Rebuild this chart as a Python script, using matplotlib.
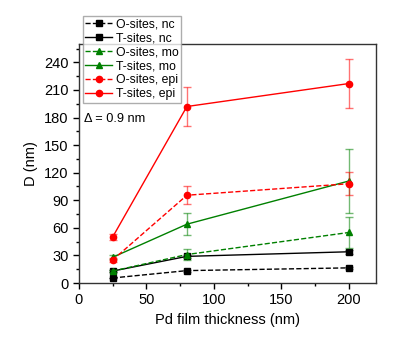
import numpy as np
import matplotlib
matplotlib.use('Agg')
import matplotlib.pyplot as plt
from matplotlib.ticker import MultipleLocator

plt.rcParams['font.family'] = ['Liberation Sans', 'DejaVu Sans']

# film thickness (nm)
thick = [25, 80, 200]

# D (nm) values and error bars
o_nc = [5.5, 13.5, 16.5]
o_nc_err = [0.5, 1, 1]
t_nc = [13, 29, 34]
t_nc_err = [1, 2, 2]
o_mo = [13, 31, 55]
o_mo_err = [1, 6, 17]
t_mo = [28, 64, 111]
t_mo_err = [2, 12, 35]
o_epi = [25, 95.5, 108]
o_epi_err = [2, 9.5, 12.5]
t_epi = [50, 192, 217]
t_epi_err = [3, 21, 26.5]

series = [
    ('O-sites, nc', o_nc, o_nc_err, 'black', 's', '--'),
    ('T-sites, nc', t_nc, t_nc_err, 'black', 's', '-'),
    ('O-sites, mo', o_mo, o_mo_err, 'green', '^', '--'),
    ('T-sites, mo', t_mo, t_mo_err, 'green', '^', '-'),
    ('O-sites, epi', o_epi, o_epi_err, 'red', 'o', '--'),
    ('T-sites, epi', t_epi, t_epi_err, 'red', 'o', '-'),
]

fig = plt.figure(figsize=(4.15, 3.41), dpi=100)
ax = fig.add_axes([0.19, 0.17, 0.716, 0.701])

handles = []
for lab, y, e, c, m, ls in series:
    ax.errorbar(thick, y, yerr=e, fmt='none', ecolor=c, alpha=0.55,
                elinewidth=1.0, capsize=3, capthick=1.0)
    h, = ax.plot(thick, y, color=c, marker=m, ls=ls, lw=1.0, ms=4.5,
                 label=lab)
    handles.append(h)

ax.set_xlim(0, 220)
ax.set_ylim(0, 260)
ax.xaxis.set_major_locator(MultipleLocator(50))
ax.xaxis.set_minor_locator(MultipleLocator(25))
ax.yaxis.set_major_locator(MultipleLocator(30))
ax.yaxis.set_minor_locator(MultipleLocator(15))
ax.tick_params(which='major', direction='out', length=4, width=1, labelsize=10.5)
ax.tick_params(which='minor', direction='out', length=2.5, width=1)
for sp in ax.spines.values():
    sp.set_linewidth(1.0)
    sp.set_color('#333333')

ax.set_xlabel('Pd film thickness (nm)', fontsize=10.5)
ax.set_ylabel('D (nm)', fontsize=10.5)
ax.text(0.017, 0.686, '\u0394 = 0.9 nm', transform=ax.transAxes, fontsize=9.2,
        va='center', ha='left')

leg = fig.legend(handles=handles, loc='upper left',
                 bbox_to_anchor=(0.2, 0.953), fontsize=8.8, frameon=True,
                 fancybox=False, handlelength=2.2, borderpad=0.2,
                 labelspacing=0.16, handletextpad=0.3, borderaxespad=0)
leg.get_frame().set_edgecolor('#999999')
leg.get_frame().set_linewidth(1.0)
leg.set_zorder(10)

plt.savefig('out.png', dpi=100)
